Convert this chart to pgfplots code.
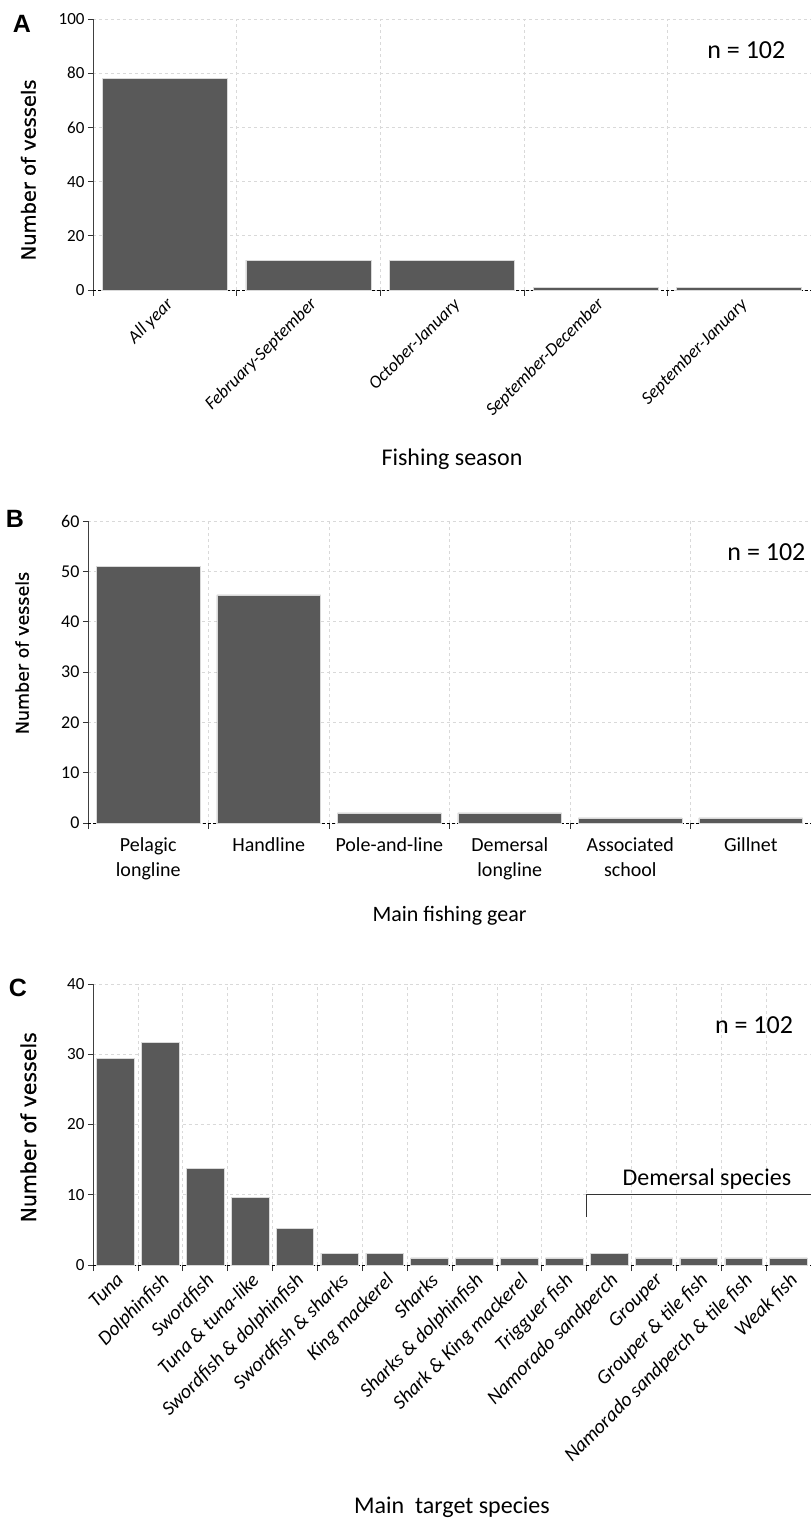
\documentclass[border=0pt]{standalone}
\usepackage{fontspec}
\setmainfont{Carlito}
\newfontfamily\verd{DejaVu Sans}[FakeBold=0.8]
\newfontfamily\arialf{Liberation Sans}
\usepackage{pgfplots}
\pgfplotsset{compat=1.18}
\definecolor{barc}{HTML}{595959}
\definecolor{gridc}{HTML}{D9D9D9}
\newcommand{\fsz}[2]{\fontsize{#1bp}{#2bp}\selectfont}

\pgfplotsset{
  panel/.style={
    scale only axis,
    axis x line*=bottom, axis y line*=left,
    x axis line style={black, densely dashed, -},
    y axis line style={black!75, -},
    tick align=outside,
    ybar, ymin=0,
    major x tick style={draw=none},
    minor x tick style={black!80, line width=0.6bp},
    y tick style={black!80, line width=0.6bp},
    major tick length=5bp, minor tick length=6bp,
    xminorgrids, ymajorgrids,
    major grid style={gridc, dashed, line width=0.6bp},
    minor grid style={gridc, dashed, line width=0.6bp},
    /pgf/number format/assume math mode=true,
    clip=false,
  },
  bars/.style={fill=barc, draw=gridc, line width=0.6bp},
}

\begin{document}
\begin{tikzpicture}
% A: fishing season
\begin{axis}[panel, at={(93bp,1229bp)}, anchor=south west,
  width=718bp, height=271bp, bar width=0.87,
  xmin=-0.5, xmax=4.5, ymax=100, ytick={0,20,...,100},
  yticklabel style={font=\fsz{17}{17}},
  xtick={0,...,4},
  xticklabels={All year, February-September, October-January, September-December, September-January},
  minor xtick={-0.5,0.5,...,4.5},
  xticklabel style={rotate=45, anchor=north east, font=\fsz{18}{18}\itshape, inner sep=1bp},
  xlabel={Fishing season},
  xlabel style={at={(axis description cs:0.5,-0.626)}, anchor=center, font=\fsz{24}{24}},
  ylabel={Number of vessels},
  ylabel style={at={(axis description cs:-0.09,0.443)}, anchor=center, font=\verd\fsz{19.5}{19.5}}]
\addplot[bars] coordinates {(0,78) (1,11) (2,11) (3,1) (4,1)};
\node[font=\fsz{26}{26}] at (axis cs:4.05,88.5) {n = 102};
\end{axis}

% B: main fishing gear
\begin{axis}[panel, at={(88bp,696bp)}, anchor=south west,
  width=723bp, height=302bp, bar width=0.86,
  xmin=-0.5, xmax=5.5, ymax=60, ytick={0,10,...,60},
  yticklabel style={font=\fsz{18}{18}},
  xtick={0,...,5},
  xticklabels={Pelagic\\longline, Handline, Pole-and-line, Demersal\\longline, Associated\\school, Gillnet},
  minor xtick={-0.5,0.5,...,5.5},
  xticklabel style={align=center, anchor=north, font=\fsz{20}{25}, yshift=-6bp},
  xlabel={Main fishing gear},
  xlabel style={at={(axis description cs:0.5,-0.308)}, anchor=center, font=\fsz{22}{22}},
  ylabel={Number of vessels},
  ylabel style={at={(axis description cs:-0.091,0.563)}, anchor=center, font=\verd\fsz{17.5}{17.5}}]
\addplot[bars] coordinates {(0,51) (1,45.3) (2,2) (3,2) (4,1) (5,1)};
\node[font=\fsz{26}{26}] at (axis cs:5.13,53.9) {n = 102};
\end{axis}

% C: main target species
\begin{axis}[panel, at={(93bp,254bp)}, anchor=south west,
  width=718bp, height=281bp, bar width=0.84,
  xmin=-0.5, xmax=15.5, ymax=40, ytick={0,10,...,40},
  yticklabel style={font=\fsz{17}{17}},
  xtick={0,...,15},
  xticklabels={Tuna, Dolphinfish, Swordfish, Tuna \& tuna-like, Swordfish \& dolphinfish,
    Swordfish \& sharks, King mackerel, Sharks, Sharks \& dolphinfish, Shark \& King mackerel,
    Trigguer fish, Namorado sandperch, Grouper, Grouper \& tile fish,
    Namorado sandperch \& tile fish, Weak fish},
  minor xtick={-0.5,0.5,...,15.5},
  xticklabel style={rotate=45, anchor=north east, font=\fsz{20}{20}\itshape, inner sep=1bp},
  xlabel={Main~ target species},
  xlabel style={at={(axis description cs:0.5,-0.861)}, anchor=center, font=\fsz{24}{24}},
  ylabel={Number of vessels},
  ylabel style={at={(axis description cs:-0.09,0.49)}, anchor=center, font=\verd\fsz{20.5}{20.5}}]
\addplot[bars] coordinates {(0,29.4) (1,31.7) (2,13.7) (3,9.6) (4,5.2) (5,1.7) (6,1.7) (7,1)
  (8,1) (9,1) (10,1) (11,1.7) (12,1) (13,1) (14,1) (15,1)};
\node[font=\fsz{26}{26}] at (axis cs:14.23,34.1) {n = 102};
\node[font=\fsz{24}{24}] at (axis cs:13.18,12.2) {Demersal species};
\draw[black!80, line width=0.8bp] (axis cs:10.5,6.8) -- (axis cs:10.5,10) -- (axis cs:15.5,10);
\end{axis}

\node[font=\arialf\bfseries\fsz{25}{25}] at (22bp,1495bp) {A};
\node[font=\arialf\bfseries\fsz{25}{25}] at (15bp,1000bp) {B};
\node[font=\arialf\bfseries\fsz{25}{25}] at (18bp,531bp) {C};

\pgfresetboundingbox
\path[use as bounding box] (0,0) rectangle (811bp,1519bp);
\end{tikzpicture}
\end{document}
